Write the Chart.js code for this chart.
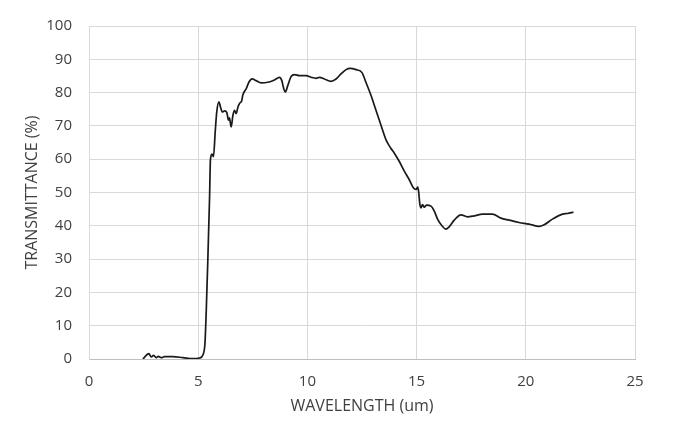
<!DOCTYPE html>
<html>
<head>
<meta charset="utf-8">
<script src="https://cdn.jsdelivr.net/npm/chart.js@4"></script>
<style>
  html, body { margin: 0; padding: 0; background: #fff; }
  #wrap { width: 698px; height: 428px; }
</style>
</head>
<body>
<div id="wrap"><canvas id="myChart" width="698" height="428"></canvas></div>
<script>
// wavelength (um) and transmittance (%)
let wavelength = [
  2.47, 2.74, 2.85, 2.96, 3.08, 3.17, 3.31, 3.46, 3.84, 4.30, 4.76, 5.06,
  5.22, 5.31, 5.37, 5.44, 5.52, 5.56, 5.63, 5.70, 5.78, 5.85, 5.95, 6.02,
  6.10, 6.21, 6.31, 6.39, 6.43, 6.51, 6.59, 6.66, 6.74, 6.82, 6.89, 7.00,
  7.04, 7.20, 7.32, 7.47, 7.65, 7.88, 8.19, 8.49, 8.72, 8.83, 8.90, 8.99,
  9.10, 9.25, 9.41, 9.64, 9.94, 10.17, 10.40, 10.55, 10.78, 11.08, 11.31,
  11.54, 11.77, 11.95, 12.23, 12.50, 12.68, 12.91, 13.14, 13.37, 13.60,
  13.82, 13.98, 14.21, 14.43, 14.66, 14.85, 14.97, 15.05, 15.09, 15.15,
  15.20, 15.27, 15.35, 15.46, 15.66, 15.81, 15.96, 16.16, 16.34, 16.49,
  16.72, 17.03, 17.33, 17.64, 18.02, 18.47, 18.86, 19.24, 19.69, 20.15,
  20.61, 20.84, 21.22, 21.68, 21.91, 22.18
];
let transmittance = [
  0.0, 1.6, 0.6, 1.1, 0.4, 0.8, 0.4, 0.7, 0.7, 0.4, 0.1, 0.3,
  1.3, 4.8, 14.7, 29.6, 48.4, 59.8, 61.5, 60.8, 68.3, 74.2, 77.2, 75.7,
  74.2, 74.5, 74.0, 71.7, 72.4, 69.7, 73.2, 74.7, 73.7, 75.7, 76.7, 77.7,
  79.2, 81.2, 83.1, 84.1, 83.6, 82.9, 83.1, 83.8, 84.6, 83.6, 81.6, 80.2,
  82.1, 84.8, 85.4, 85.1, 85.1, 84.6, 84.3, 84.6, 84.1, 83.4, 84.1,
  85.6, 86.9, 87.3, 86.9, 86.0, 83.1, 79.2, 74.7, 70.2, 65.8,
  63.3, 61.8, 59.3, 56.5, 53.9, 51.4, 50.9, 51.6, 50.4, 46.4,
  45.4, 46.4, 45.6, 46.2, 45.9, 44.4, 42.0, 40.0, 39.0, 39.7,
  41.7, 43.3, 42.7, 43.0, 43.5, 43.5, 42.3, 41.7, 41.0, 40.5,
  39.8, 40.3, 42.0, 43.5, 43.7, 44.1
];

let points = wavelength.map((x, i) => ({ x: x, y: transmittance[i] }));

let textColor = "#404040";
let gridColor = "#d9d9d9";
let tickFont = { family: "Open Sans", size: 15 };
let titleFont = { family: "Open Sans", size: 16 };

let ctx = document.getElementById("myChart").getContext("2d");
let myChart = new Chart(ctx, {
  type: "scatter",
  data: {
    datasets: [
      {
        label: "Transmittance",
        data: points,
        showLine: true,
        borderColor: "#1a1a1a",
        borderWidth: 1.7,
        pointRadius: 0,
        cubicInterpolationMode: "monotone",
      },
    ],
  },
  options: {
    responsive: false,
    animation: false,
    layout: { padding: { top: 23, right: 63, left: 0, bottom: 0 } },
    plugins: {
      legend: { display: false },
      tooltip: { enabled: false },
    },
    scales: {
      x: {
        type: "linear",
        min: 0,
        max: 25,
        ticks: { stepSize: 5, color: textColor, font: tickFont, padding: 14 },
        grid: { color: gridColor, drawTicks: false },
        border: { color: "#bfbfbf" },
        title: {
          display: true,
          text: "WAVELENGTH (um)",
          color: textColor,
          font: titleFont,
          padding: { top: 0, bottom: 12 },
        },
        afterFit: (scale) => { scale.height = 69; },
      },
      y: {
        min: 0,
        max: 100,
        ticks: { stepSize: 10, color: textColor, font: tickFont, padding: 17 },
        grid: { color: gridColor, drawTicks: false },
        border: { color: gridColor },
        title: {
          display: true,
          text: "TRANSMITTANCE (%)",
          color: textColor,
          font: titleFont,
          padding: { top: 23, bottom: 0 },
        },
        afterFit: (scale) => { scale.width = 89; },
      },
    },
  },
});
</script>
</body>
</html>
